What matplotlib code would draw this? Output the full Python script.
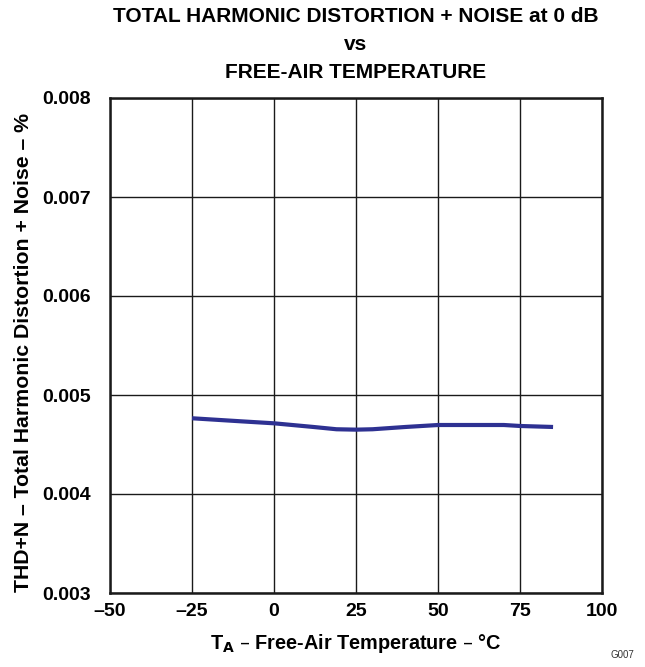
import numpy as np
import matplotlib
matplotlib.use('Agg')
import matplotlib.pyplot as plt

# data
temp_c = [-25, -10, 0, 12, 19, 25, 30, 40, 50, 60, 70, 75, 85]
thd_pct = [0.004765, 0.004734, 0.004714, 0.004677, 0.004654, 0.00465, 0.004654,
           0.004677, 0.004697, 0.004697, 0.004697, 0.004687, 0.004677]

x_ticks = [-50, -25, 0, 25, 50, 75, 100]
y_ticks = [0.003, 0.004, 0.005, 0.006, 0.007, 0.008]

plt.rcParams['font.family'] = ['Liberation Sans', 'DejaVu Sans']

fig = plt.figure(figsize=(6.45, 6.67), dpi=100)
ax = fig.add_axes([110 / 645, 74 / 667, 492.3 / 645, 495 / 667])

ax.plot(temp_c, thd_pct, color='#2e3192', linewidth=3.0, solid_capstyle='butt')

ax.set_xlim(-50, 100)
ax.set_ylim(0.003, 0.008)
ax.set_xticks(x_ticks)
ax.set_yticks(y_ticks)
ax.set_xticklabels(['\u201350', '\u201325', '0', '25', '50', '75', '100'])
ax.set_yticklabels(['%.3f' % v for v in y_ticks])
ax.grid(True, color='#1a1a1a', linewidth=1.0)
ax.tick_params(length=0, labelsize=14)
ax.tick_params(axis='x', pad=7)
ax.tick_params(axis='y', pad=14)
for lbl in ax.get_xticklabels() + ax.get_yticklabels():
    lbl.set_fontweight('bold')
for s in ax.spines.values():
    s.set_linewidth(1.8)
    s.set_color('#1a1a1a')

ax.set_xlabel('T$_\\mathbf{A}$ \u2013 Free-Air Temperature \u2013 \u00b0C',
              fontsize=14.3, fontweight='bold', labelpad=9)
ax.set_ylabel('THD+N \u2013 Total Harmonic Distortion + Noise \u2013 %',
              fontsize=15.3, fontweight='bold')
ax.yaxis.set_label_coords(-0.156, 0.485)

fig.text(0.552, 0.975, 'TOTAL HARMONIC DISTORTION + NOISE at 0 dB',
         ha='center', va='center', fontsize=15, fontweight='bold')
fig.text(0.552, 0.934, 'vs', ha='center', va='center', fontsize=15, fontweight='bold')
fig.text(0.552, 0.891, 'FREE-AIR TEMPERATURE', ha='center', va='center',
         fontsize=15, fontweight='bold')
fig.text(0.965, 0.01, 'G007', ha='center', va='bottom', fontsize=7, color='#333333')

plt.savefig('out.png', dpi=100)
